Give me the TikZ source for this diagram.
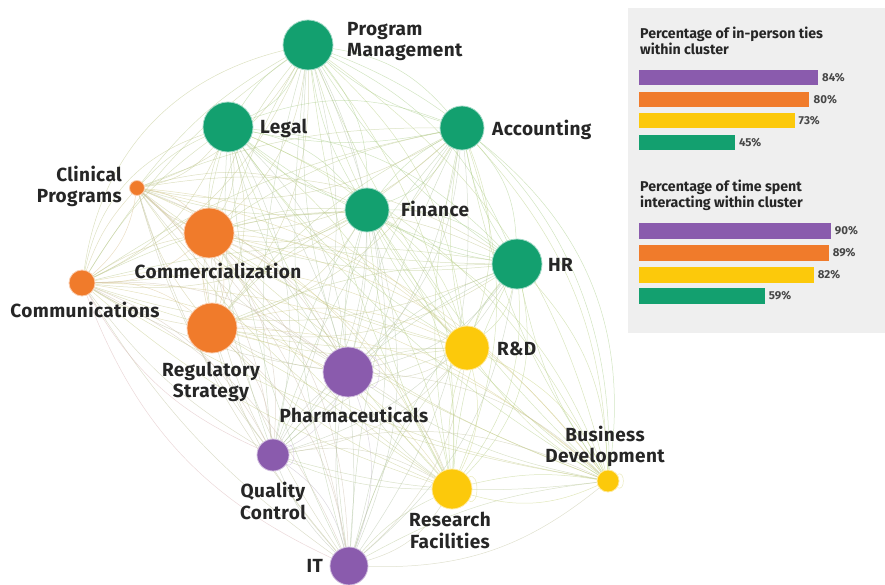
\documentclass[tikz,border=0pt]{standalone}
\usepackage{fontspec}
\setmainfont{Fira Sans}
\pgfdeclarelayer{edges}
\pgfsetlayers{edges,main}

% cluster colours
\definecolor{cg}{HTML}{13A06F}
\definecolor{co}{HTML}{F07B2B}
\definecolor{cp}{HTML}{8A5BAD}
\definecolor{cy}{HTML}{FCC90B}
% tints used for the ties
\definecolor{eg}{RGB}{172,206,142}
\definecolor{eo}{RGB}{238,190,150}
\definecolor{ep}{RGB}{200,178,222}
\definecolor{ey}{RGB}{215,215,130}
\definecolor{ink}{HTML}{262626}
\definecolor{panelbg}{HTML}{EFEFEF}

% tie tint of each department
\colorlet{e-pm}{eg}\colorlet{e-legal}{eg}\colorlet{e-acct}{eg}
\colorlet{e-fin}{eg}\colorlet{e-hr}{eg}
\colorlet{e-clin}{eo}\colorlet{e-comm}{eo}\colorlet{e-commu}{eo}\colorlet{e-reg}{eo}
\colorlet{e-rd}{ey}\colorlet{e-bd}{ey}\colorlet{e-rf}{ey}
\colorlet{e-pharma}{ep}\colorlet{e-qc}{ep}\colorlet{e-it}{ep}

\tikzset{
  hub/.style={circle, inner sep=0pt, line width=0.8pt},
  lab/.style={font=\fontsize{19}{21.5}\selectfont\bfseries\addfontfeatures{LetterSpace=2}, text=ink, inner sep=0pt},
  tie/.style={line width=0.5pt, opacity=0.55},
  ptitle/.style={font=\fontsize{14.2}{16}\selectfont\bfseries, text=ink, inner sep=0pt, align=left, anchor=west},
  pct/.style={font=\fontsize{11.5}{12}\selectfont\bfseries, text=ink!85, inner sep=0pt, anchor=west},
}

\begin{document}
\begin{tikzpicture}[x=1pt,y=-1pt]
\useasboundingbox (0,0) rectangle (885,585);

% departments
\foreach \n/\x/\y/\r/\c in {
  pm/308/45/25/g, legal/228/127/25/g, acct/462/128/22/g, clin/137/188/7.5/o,
  fin/367/210/22/g, comm/209/233/25/o, hr/517/264/25/g, commu/82/283/13/o,
  reg/212/328/25/o, rd/467/348/22/y, pharma/348/372/25/p, qc/273/455/16/p,
  bd/608/481/11/y, rf/452/489/20/y, it/349/566/19/p}{
  \node[hub, fill=c\c, draw=c\c!40!white, minimum size=2*\r pt] (\n) at (\x,\y) {};
}

% ties between every pair of departments
\begin{pgfonlayer}{edges}
\foreach \a [count=\i] in {pm,legal,acct,clin,fin,comm,hr,commu,reg,rd,pharma,qc,bd,rf,it}{
  \foreach \b [count=\j] in {pm,legal,acct,clin,fin,comm,hr,commu,reg,rd,pharma,qc,bd,rf,it}{
    \ifnum\j>\i
      \draw[tie, draw=e-\a!50!e-\b!70!eg] (\a) to[bend left=20] (\b);
      \draw[tie, draw=e-\a!50!e-\b!45!eg] (\a) to[bend right=11] (\b);
    \fi
  }
}
% wide outer ties
\draw[tie, draw=eg] (pm) to[bend left=36] (bd);
\draw[tie, draw=eg] (acct) to[bend left=30] (bd);
\draw[tie, draw=eg!70!ey] (hr) to[bend left=28] (rf);
\draw[tie, draw=eg!70!eo] (pm) to[bend right=34] (commu);
\draw[tie, draw=eg!70!eo] (legal) to[bend right=30] (commu);
\draw[tie, draw=eo!50!ep] (commu) to[bend right=22] (it);
\draw[tie, draw=eo!50!ep] (commu) to[bend right=18] (qc);
% ties within a department
\draw[tie, draw=ep] (pharma.35) .. controls +(14,-8) and +(14,8) .. (pharma.-35);
\draw[tie, draw=ep] (qc.35) .. controls +(10,-6) and +(10,6) .. (qc.-35);
\draw[tie, draw=ey] (rf.35) .. controls +(11,-7) and +(11,7) .. (rf.-35);
\draw[tie, draw=ey] (bd.35) .. controls +(8,-5) and +(8,5) .. (bd.-35);
\end{pgfonlayer}

% department names
\node[lab, anchor=west, align=left] (l-pm) at (347,41.5) {Program\\Management};
\node[lab, anchor=west] (l-legal) at (260,128) {Legal};
\node[lab, anchor=west] (l-acct) at (492,129.5) {Accounting};
\node[lab, anchor=east, align=right] (l-clin) at (122,186.5) {Clinical\\Programs};
\node[lab, anchor=west] (l-fin) at (401,208.5) {Finance};
\node[lab, align=center] (l-comm) at (218,270.5) {Commercialization};
\node[lab, anchor=west] (l-hr) at (548,264.5) {HR};
\node[lab, align=center] (l-commu) at (85,309.5) {Communications};
\node[lab, align=center] (l-reg) at (211,382) {Regulatory\\Strategy};
\node[lab, anchor=west] (l-rd) at (497,349) {R\&D};
\node[lab, align=center] (l-pharma) at (354,414.5) {Pharmaceuticals};
\node[lab, align=center] (l-qc) at (273,501) {Quality\\Control};
\node[lab, align=center] (l-bd) at (605,446.5) {Business\\Development};
\node[lab, align=center] (l-rf) at (450,530.5) {Research\\Facilities};
\node[lab, anchor=east] (l-it) at (323,566) {IT};

% summary panel
\fill[panelbg] (628,8) rectangle (885,333);
\node[ptitle] (t-ties) at (640,41) {Percentage of in-person ties\\within cluster};
\foreach \v/\c/\y in {84/cp/70, 80/co/92, 73/cy/113, 45/cg/135}{
  \fill[\c] (639,\y) rectangle ++(2.13*\v,15.5);
  \node[pct] (p1-\v) at (639+2.13*\v+4,\y+7.75) {\v\%};
}
\node[ptitle] (t-time) at (640,195) {Percentage of time spent\\interacting within cluster};
\foreach \v/\c/\y in {90/cp/223, 89/co/245, 82/cy/267, 59/cg/288}{
  \fill[\c] (639,\y) rectangle ++(2.13*\v,15.5);
  \node[pct] (p2-\v) at (639+2.13*\v+4,\y+7.75) {\v\%};
}
\end{tikzpicture}
\end{document}
